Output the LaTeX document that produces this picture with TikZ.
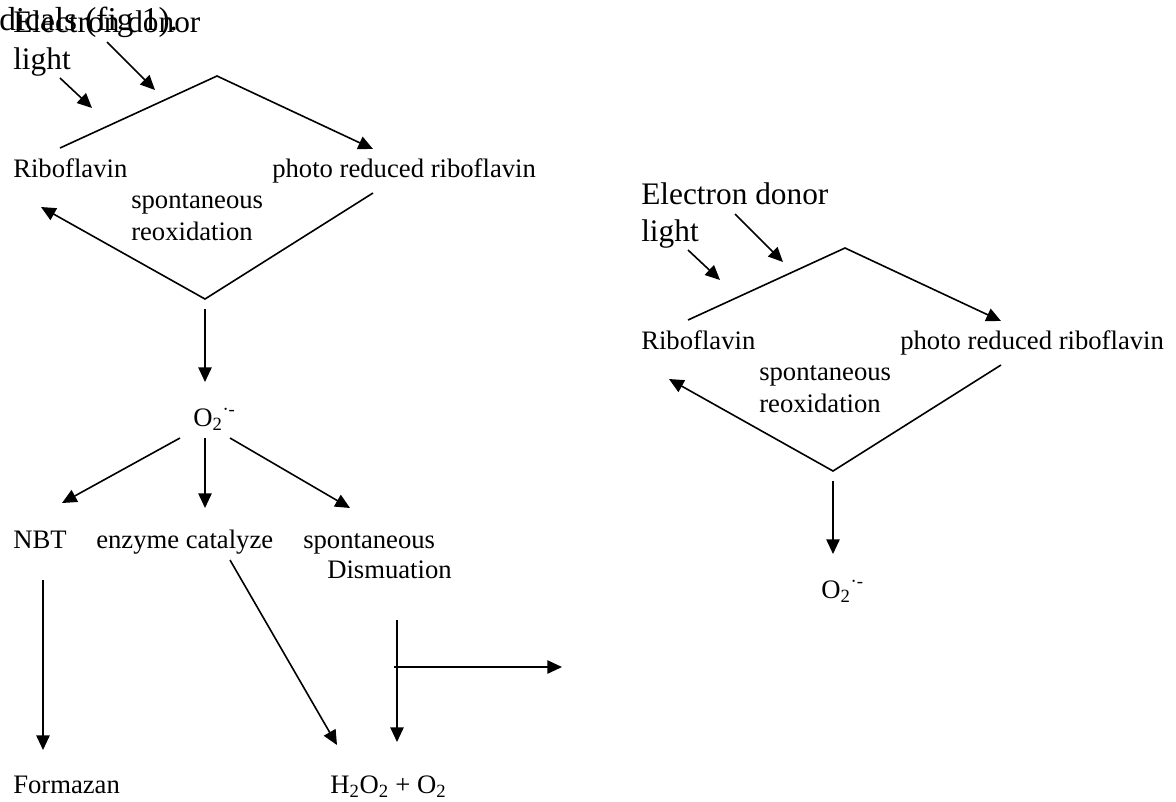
\documentclass[tikz,border=0pt]{standalone}
\usepackage{fontspec}
\setmainfont{Liberation Serif}
\usetikzlibrary{arrows.meta}

\tikzset{
	arr/.style={-{Triangle[length=11pt,width=10pt]}, line width=1.2pt},
	lbl/.style={anchor=base west, inner sep=0pt, font=\fontsize{20}{24}\selectfont},
	big/.style={anchor=base west, inner sep=0pt, font=\fontsize{23.5}{28}\selectfont},
}

\begin{document}
\begin{tikzpicture}[x=0.75pt,y=0.75pt,yscale=-1]
	\useasboundingbox (0,0) rectangle (1176,801);
	
	% clipped text of the previous paragraph
	\node[big, font=\fontsize{25}{30}\selectfont] (prev) at (-1,30) {dicals (fig 1).};
	
	%Left cycle
	\begin{scope}
		\node[big] (Ldonor) at (13,32) {Electron donor};
		\node[big] (Llight) at (13,69) {light};
		\node[lbl] (Lrib) at (13,177) {Riboflavin};
		\node[lbl] (Lphoto) at (272,177) {photo reduced riboflavin};
		\node[lbl] (Lspont) at (131,208) {spontaneous};
		\node[lbl] (Lreox) at (131,240) {reoxidation};
		\node[lbl] (Lo2) at (193,426) {O\textsubscript{2}\textsuperscript{·-}};
		
		\coordinate (Llt) at (92,108);
		\coordinate (Ldn) at (155,90);
		\coordinate (Ltop) at (60,148);
		\coordinate (Lapex) at (217,76);
		\coordinate (Ltip) at (373,149);
		\coordinate (Lbot) at (373,193);
		\coordinate (Lvtx) at (205,299);
		\coordinate (Lback) at (41,207);
		\coordinate (Ldown) at (205,309);
		\coordinate (Ldown2) at (205,382);
		
		\draw[arr] (60,78) -- (Llt);
		\draw[arr] (107,42) -- (Ldn);
		\draw[arr] (Ltop) -- (Lapex) -- (Ltip);
		\draw[arr] (Lbot) -- (Lvtx) -- (Lback);
		\draw[arr] (Ldown) -- (Ldown2);
	\end{scope}
	
	%Right cycle
	\begin{scope}[shift={(628,172)}]
		\node[big] (Rdonor) at (13,32) {Electron donor};
		\node[big] (Rlight) at (13,69) {light};
		\node[lbl] (Rrib) at (13,177) {Riboflavin};
		\node[lbl] (Rphoto) at (272,177) {photo reduced riboflavin};
		\node[lbl] (Rspont) at (131,208) {spontaneous};
		\node[lbl] (Rreox) at (131,240) {reoxidation};
		\node[lbl] (Ro2) at (193,426) {O\textsubscript{2}\textsuperscript{·-}};
		
		\coordinate (Rlt) at (92,108);
		\coordinate (Rdn) at (155,90);
		\coordinate (Rtop) at (60,148);
		\coordinate (Rapex) at (217,76);
		\coordinate (Rtip) at (373,149);
		\coordinate (Rbot) at (373,193);
		\coordinate (Rvtx) at (205,299);
		\coordinate (Rback) at (41,207);
		\coordinate (Rdown) at (205,309);
		\coordinate (Rdown2) at (205,382);
		
		\draw[arr] (60,78) -- (Rlt);
		\draw[arr] (107,42) -- (Rdn);
		\draw[arr] (Rtop) -- (Rapex) -- (Rtip);
		\draw[arr] (Rbot) -- (Rvtx) -- (Rback);
		\draw[arr] (Rdown) -- (Rdown2);
	\end{scope}
	
	%Products of O2
	\node[lbl] (nbt) at (13,548) {NBT};
	\node[lbl] (enz) at (96,548) {enzyme catalyze};
	\node[lbl] (sdis) at (303,548) {spontaneous};
	\node[lbl] (dism) at (327,578) {Dismuation};
	\node[lbl] (form) at (13,793) {Formazan};
	\node[lbl] (hpox) at (330,793) {H\textsubscript{2}O\textsubscript{2} + O\textsubscript{2}};
	
	\coordinate (o2l) at (180,438);
	\coordinate (o2m) at (205,438);
	\coordinate (o2r) at (230,438);
	\coordinate (nbtA) at (62,503);
	\coordinate (enzA) at (205,508);
	\coordinate (sdisA) at (350,508);
	\coordinate (nbtB) at (43,580);
	\coordinate (formA) at (43,750);
	\coordinate (enzB) at (230,560);
	\coordinate (hpoxA) at (337,745);
	\coordinate (dismB) at (397,620);
	\coordinate (hpoxB) at (397,742);
	\coordinate (sideA) at (394,667);
	\coordinate (sideB) at (562,667);
	
	\draw[arr] (o2l) -- (nbtA);
	\draw[arr] (o2m) -- (enzA);
	\draw[arr] (o2r) -- (sdisA);
	\draw[arr] (nbtB) -- (formA);
	\draw[arr] (enzB) -- (hpoxA);
	\draw[arr] (dismB) -- (hpoxB);
	\draw[arr] (sideA) -- (sideB);
	
\end{tikzpicture}
\end{document}
